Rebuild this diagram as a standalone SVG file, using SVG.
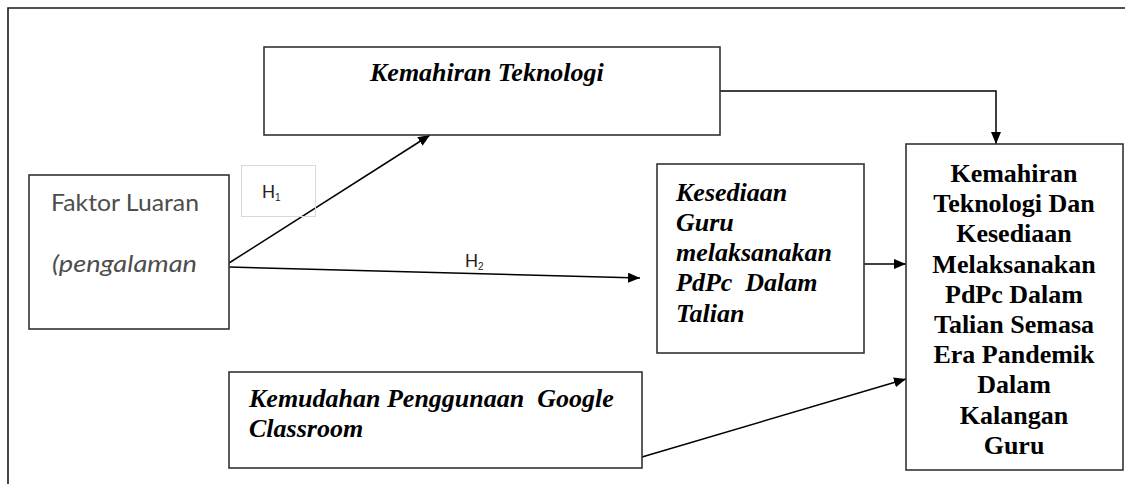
<svg xmlns="http://www.w3.org/2000/svg" width="1125" height="484" viewBox="0 0 1125 484">
  <style>
    .box { fill: #ffffff; stroke: #333333; stroke-width: 1.6; }
    .hbox { fill: none; stroke: #d9d9d9; stroke-width: 1; }
    .edge { fill: none; stroke: #000000; stroke-width: 1.5; }
    .bi { font-family: "Liberation Serif", "Times New Roman", serif; font-weight: bold; font-style: italic; font-size: 26px; fill: #000000; white-space: pre; }
    .b { font-family: "Liberation Serif", "Times New Roman", serif; font-weight: bold; font-size: 26px; fill: #000000; text-anchor: middle; }
    .cal { font-family: Lato, "Open Sans", sans-serif; font-size: 24px; fill: #4d4d4d; }
    .h { font-family: "Liberation Sans", Arial, sans-serif; font-size: 18px; fill: #222222; }
    .sub { font-size: 10px; }
  </style>
  <defs>
    <marker id="arrow" viewBox="0 0 12 10" refX="12" refY="5" markerWidth="12" markerHeight="10" markerUnits="userSpaceOnUse" orient="auto">
      <path d="M0,0 L12,5 L0,10 Z" fill="#000000"/>
    </marker>
  </defs>

  <rect width="1125" height="484" fill="#ffffff"/>

  <!-- outer frame (only top and left edges fall inside the view) -->
  <path d="M8,484 L8,8 L1125,8" fill="none" stroke="#1a1a1a" stroke-width="1.6"/>

  <!-- connectors -->
  <g id="connectors">
    <path class="edge" d="M720,91 L996,91 L996,144" marker-end="url(#arrow)"/>
    <path class="edge" d="M229,263 L430,135" marker-end="url(#arrow)"/>
    <path class="edge" d="M229,267 L640,278" marker-end="url(#arrow)"/>
    <path class="edge" d="M864,264 L906,264" marker-end="url(#arrow)"/>
    <path class="edge" d="M642,457 L906,379" marker-end="url(#arrow)"/>
  </g>

  <!-- hypothesis labels -->
  <g id="label-h1">
    <rect class="hbox" x="241.5" y="165.5" width="74" height="51"/>
    <text class="h" x="262" y="198">H<tspan class="sub" dy="3">1</tspan></text>
  </g>
  <g id="label-h2">
    <text class="h" x="465" y="267">H<tspan class="sub" dy="3">2</tspan></text>
  </g>

  <!-- nodes -->
  <g id="node-kemahiran-teknologi">
    <rect class="box" x="264" y="47" width="456" height="88"/>
    <text class="bi" x="370" y="81">Kemahiran Teknologi</text>
  </g>

  <g id="node-faktor-luaran">
    <rect class="box" x="29" y="175" width="200" height="154"/>
    <text class="cal" x="51" y="211" textLength="148" lengthAdjust="spacingAndGlyphs">Faktor Luaran</text>
    <text class="cal" x="52" y="272" font-style="italic" textLength="145" lengthAdjust="spacingAndGlyphs">(pengalaman</text>
  </g>

  <g id="node-kesediaan-guru">
    <rect class="box" x="657" y="164" width="207" height="189"/>
    <text class="bi" x="676" y="201">Kesediaan</text>
    <text class="bi" x="676" y="231">Guru</text>
    <text class="bi" x="676" y="261">melaksanakan</text>
    <text class="bi" x="676" y="291">PdPc  Dalam</text>
    <text class="bi" x="676" y="322">Talian</text>
  </g>

  <g id="node-kemudahan-classroom">
    <rect class="box" x="229" y="372" width="413" height="96"/>
    <text class="bi" x="249" y="407">Kemudahan Penggunaan  Google</text>
    <text class="bi" x="249" y="437">Classroom</text>
  </g>

  <g id="node-hasil">
    <rect class="box" x="906" y="144" width="217" height="326"/>
    <text class="b" x="1014" y="182">Kemahiran</text>
    <text class="b" x="1014" y="212">Teknologi Dan</text>
    <text class="b" x="1014" y="242">Kesediaan</text>
    <text class="b" x="1014" y="273">Melaksanakan</text>
    <text class="b" x="1014" y="303">PdPc Dalam</text>
    <text class="b" x="1014" y="333">Talian Semasa</text>
    <text class="b" x="1014" y="363">Era Pandemik</text>
    <text class="b" x="1014" y="393">Dalam</text>
    <text class="b" x="1014" y="424">Kalangan</text>
    <text class="b" x="1014" y="454">Guru</text>
  </g>
</svg>
